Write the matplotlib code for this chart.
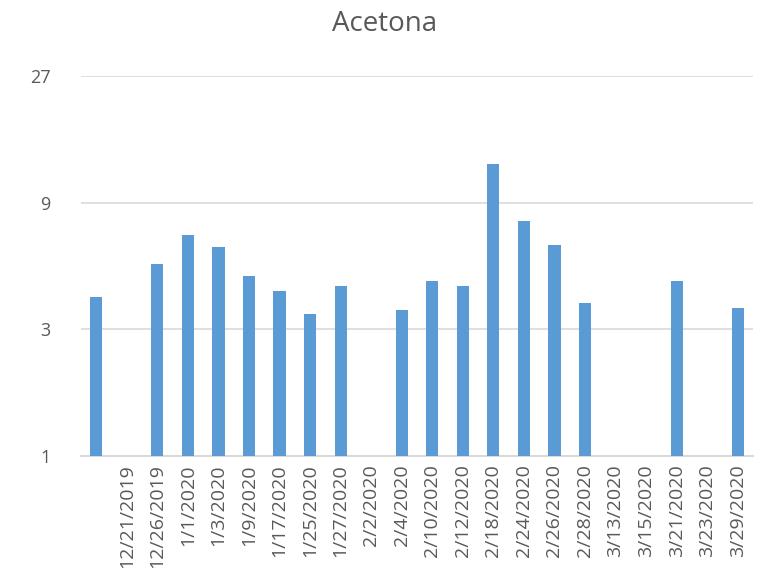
import numpy as np
import matplotlib.pyplot as plt
from matplotlib.ticker import FixedLocator, NullLocator

# data (log base-3 axis)
dates = ["", "12/21/2019", "12/26/2019", "1/1/2020", "1/3/2020", "1/9/2020",
         "1/17/2020", "1/25/2020", "1/27/2020", "2/2/2020", "2/4/2020",
         "2/10/2020", "2/12/2020", "2/18/2020", "2/24/2020", "2/26/2020",
         "2/28/2020", "3/13/2020", "3/15/2020", "3/21/2020", "3/23/2020",
         "3/29/2020"]
acetona = [3.96, np.nan, 5.3, 6.8, 6.15, 4.75,
           4.17, 3.42, 4.35, np.nan, 3.54,
           4.58, 4.35, 12.6, 7.7, 6.26,
           3.76, np.nan, np.nan, 4.58, np.nan,
           3.6]
y_ticks = [1, 3, 9, 27]

plt.rcParams['font.family'] = ['Open Sans', 'DejaVu Sans']
text_col = "#595959"

fig = plt.figure(figsize=(7.69, 5.86), dpi=100)
ax = fig.add_axes([81/769, 1 - 456/586, (753 - 81)/769, (456 - 76)/586])

x = np.arange(len(dates))
vals = np.array(acetona, dtype=float)
mask = ~np.isnan(vals)
ax.bar(x[mask], vals[mask], width=0.4, color="#5B9BD5", zorder=3)

ax.set_yscale("log", base=3)
ax.set_ylim(1, 27)
ax.yaxis.set_major_locator(FixedLocator(y_ticks))
ax.yaxis.set_minor_locator(NullLocator())
ax.set_yticklabels([str(t) for t in y_ticks])
ax.set_xlim(-0.5, len(dates) - 0.5)
ax.set_xticks(x)
ax.set_xticklabels(dates, rotation=90, va="top", ha="center")

ax.grid(axis="y", color="#D9D9D9", linewidth=1.2, zorder=0)
for s in ["top", "right", "left"]:
    ax.spines[s].set_visible(False)
ax.spines["bottom"].set_color("#D9D9D9")
ax.spines["bottom"].set_linewidth(1.5)
ax.tick_params(axis="both", length=0, colors=text_col)
ax.tick_params(axis="y", pad=22, labelsize=13)
ax.tick_params(axis="x", pad=6, labelsize=14)

fig.text(0.5, 1 - 24/586, "Acetona", ha="center", va="center",
         fontsize=20, color=text_col)

fig.savefig("out.png", dpi=100)
